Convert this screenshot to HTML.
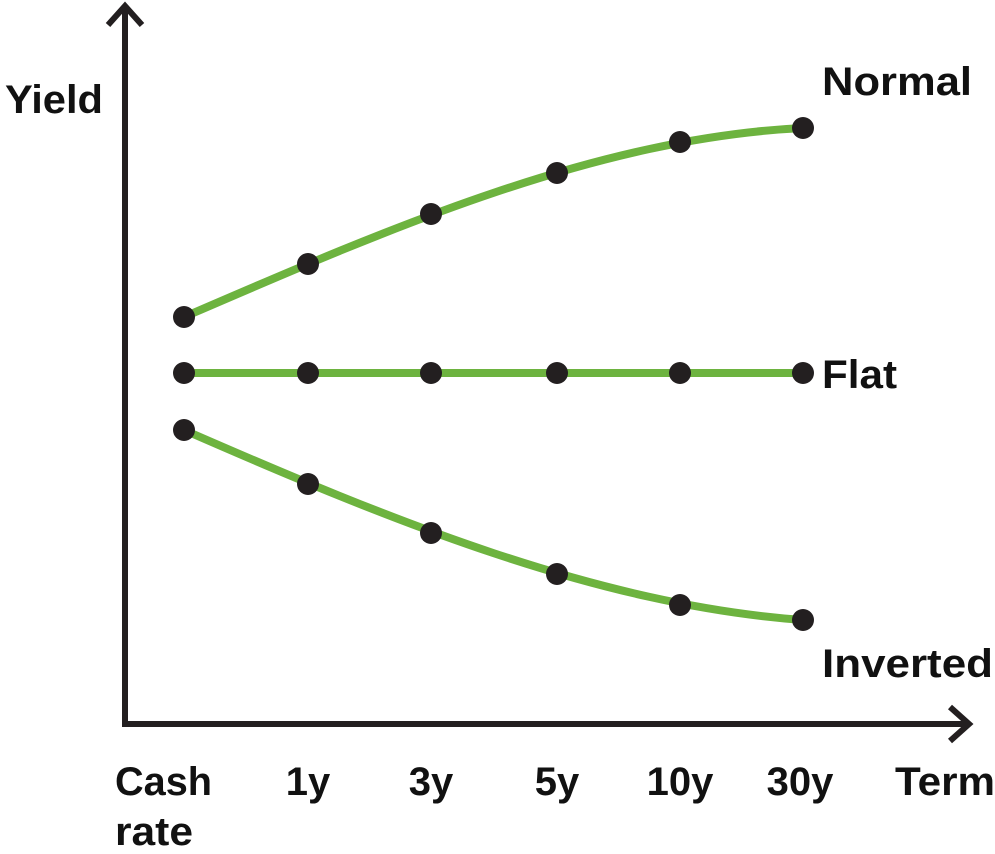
<!DOCTYPE html>
<html><head><style>html,body{margin:0;background:#fff}</style></head><body>
<svg width="995" height="849" viewBox="0 0 995 849" xmlns="http://www.w3.org/2000/svg" font-family="Liberation Sans, sans-serif" font-weight="bold" font-size="40" fill="#111">
<g stroke="#231f20" stroke-width="6" fill="none">
<polyline points="125,8 125,724 968,724"/>
<polyline points="108,25 125,6 142,25"/>
<polyline points="950,707 969,724 950,741"/>
</g>
<g stroke="#6db33f" stroke-width="8" fill="none" stroke-linecap="round">
<path d="M184,317 C390,228 597,138 803,128"/>
<path d="M184,373 L803,373"/>
<path d="M184,430 C390,520 597,605 803,620"/>
</g>
<g fill="#231f20">
<circle cx="184" cy="317" r="11"/><circle cx="308" cy="264" r="11"/><circle cx="431" cy="214" r="11"/><circle cx="557" cy="173" r="11"/><circle cx="680" cy="142" r="11"/><circle cx="803" cy="128" r="11"/>
<circle cx="184" cy="373" r="11"/><circle cx="308" cy="373" r="11"/><circle cx="431" cy="373" r="11"/><circle cx="557" cy="373" r="11"/><circle cx="680" cy="373" r="11"/><circle cx="803" cy="373" r="11"/>
<circle cx="184" cy="430" r="11"/><circle cx="308" cy="484" r="11"/><circle cx="431" cy="533" r="11"/><circle cx="557" cy="574" r="11"/><circle cx="680" cy="605" r="11"/><circle cx="803" cy="620" r="11"/>
</g>
<text x="5" y="113" textLength="98" lengthAdjust="spacingAndGlyphs">Yield</text>
<text x="822" y="95" textLength="150" lengthAdjust="spacingAndGlyphs">Normal</text>
<text x="822" y="388" textLength="75" lengthAdjust="spacingAndGlyphs">Flat</text>
<text x="822" y="677" textLength="171" lengthAdjust="spacingAndGlyphs">Inverted</text>
<text x="115" y="795" textLength="97" lengthAdjust="spacingAndGlyphs">Cash</text>
<text x="115" y="845" textLength="78" lengthAdjust="spacingAndGlyphs">rate</text>
<g text-anchor="middle">
<text x="308" y="795">1y</text><text x="431" y="795">3y</text><text x="557" y="795">5y</text><text x="680" y="795">10y</text><text x="800" y="795">30y</text>
</g>
<text x="895" y="795" textLength="100" lengthAdjust="spacingAndGlyphs">Term</text>
</svg>
</body></html>
